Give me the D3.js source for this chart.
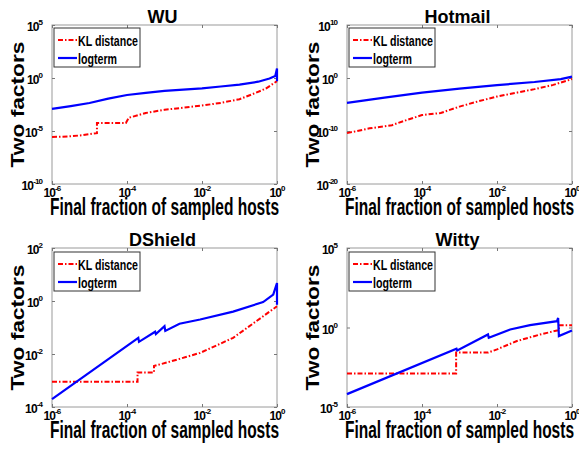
<!DOCTYPE html>
<html><head><meta charset="utf-8">
<script src="https://cdn.jsdelivr.net/npm/d3@7"></script>
<style>
body{margin:0;background:#fff}
svg{display:block}
text{font-family:"Liberation Sans",Arial,sans-serif;font-weight:bold;fill:#000}
</style>
</head><body>
<svg id="c" width="579" height="453"></svg>
<script>
// ---------- data ----------
const seriesNames = ["KL distance", "logterm"];
const xTicks = [1e-6, 1e-4, 1e-2, 1];
const xTickExps = ["-6", "-4", "-2", "0"];

// WU
const wuKLx = [1e-6, 3.16e-6, 6.31e-6, 1.58e-5, 1.58e-5, 9.33e-5, 1.12e-4, 3.16e-4, 1e-3, 3.16e-3, 1e-2, 3.16e-2, 0.1, 0.251, 0.501, 1];
const wuKLy = [2.69e-6, 3.16e-6, 3.98e-6, 6.31e-6, 5.75e-5, 5.75e-5, 1.78e-4, 5.01e-4, 1e-3, 1.58e-3, 2.51e-3, 4.47e-3, 1e-2, 3.55e-2, 0.1, 0.501];
const wuLTx = [1e-6, 3.16e-6, 1e-5, 3.16e-5, 1e-4, 3.16e-4, 1e-3, 3.16e-3, 1e-2, 3.16e-2, 0.1, 0.316, 0.631, 0.9, 1, 1];
const wuLTy = [1.2e-3, 2.24e-3, 4.37e-3, 1.12e-2, 2.51e-2, 3.98e-2, 6.03e-2, 7.94e-2, 0.107, 0.158, 0.24, 0.447, 0.891, 1.58, 7.94, 0.5];
const wuYTicks = [1e-10, 1e-5, 1, 1e5];
const wuYTickExps = ["-10", "-5", "0", "5"];

// Hotmail
const hmKLx = [1e-6, 3.98e-6, 1.58e-5, 3.98e-5, 1e-4, 3.16e-4, 1e-3, 3.16e-3, 1e-2, 3.16e-2, 0.1, 0.316, 1];
const hmKLy = [3.98e-11, 3.16e-10, 1.26e-9, 1.26e-8, 1e-7, 2.51e-7, 3.98e-6, 3.98e-5, 3.16e-4, 1.58e-3, 7.94e-3, 5.01e-2, 0.631];
const hmLTx = [1e-6, 1e-5, 1e-4, 1e-3, 1e-2, 0.1, 0.501, 1];
const hmLTy = [2e-5, 2e-4, 1.78e-3, 1e-2, 4.47e-2, 0.178, 0.631, 1.78];
const hmYTicks = [1e-20, 1e-10, 1, 1e10];
const hmYTickExps = ["-20", "-10", "0", "10"];

// DShield
const dsKLx = [1e-6, 1.91e-4, 1.91e-4, 5.25e-4, 5.25e-4, 1.17e-3, 8.91e-3, 6.76e-2, 0.282, 1];
const dsKLy = [8.91e-4, 8.91e-4, 2e-3, 2e-3, 3.55e-3, 4.79e-3, 1.1e-2, 4.07e-2, 0.174, 0.631];
const dsLTx = [1e-6, 2e-4, 2.09e-4, 5.62e-4, 5.89e-4, 1e-3, 1.05e-3, 2.51e-3, 8.91e-3, 6.76e-2, 0.427, 0.794, 1, 1];
const dsLTy = [2e-4, 4.07e-2, 2.88e-2, 6.92e-2, 5.62e-2, 0.112, 7.41e-2, 0.138, 0.2, 0.398, 0.912, 1.74, 4.79, 0.724];
const dsYTicks = [1e-4, 1e-2, 1, 1e2];
const dsYTickExps = ["-4", "-2", "0", "2"];

// Witty
const wtKLx = [1e-6, 8.13e-4, 8.13e-4, 5.75e-3, 1e-2, 3.39e-2, 0.141, 0.398, 0.447, 0.447, 1];
const wtKLy = [1.26e-3, 1.26e-3, 2.63e-2, 2.63e-2, 4.22e-2, 0.141, 0.363, 0.646, 0.646, 1.38, 1.38];
const wtLTx = [1e-6, 8.32e-4, 8.71e-4, 5.75e-3, 6.03e-3, 2.24e-2, 7.59e-2, 0.398, 0.427, 0.447, 1];
const wtLTy = [6.46e-5, 4.68e-2, 3.55e-2, 0.363, 0.224, 0.75, 1.41, 2.51, 3.98, 0.288, 0.646];
const wtYTicks = [1e-5, 1, 1e5];
const wtYTickExps = ["-5", "0", "5"];

// ---------- layout ----------
const panels = [
  {title: "WU", left: 52, top: 25, yDomain: [1e-10, 1e5], yTicks: wuYTicks, yExps: wuYTickExps,
   kl: [wuKLx, wuKLy], lt: [wuLTx, wuLTy], legTop: 3},
  {title: "Hotmail", left: 347, top: 25, yDomain: [1e-20, 1e10], yTicks: hmYTicks, yExps: hmYTickExps,
   kl: [hmKLx, hmKLy], lt: [hmLTx, hmLTy], legTop: 3},
  {title: "DShield", left: 52, top: 248, yDomain: [1e-4, 1e2], yTicks: dsYTicks, yExps: dsYTickExps,
   kl: [dsKLx, dsKLy], lt: [dsLTx, dsLTy], legTop: 4},
  {title: "Witty", left: 347, top: 248, yDomain: [1e-5, 1e5], yTicks: wtYTicks, yExps: wtYTickExps,
   kl: [wtKLx, wtKLy], lt: [wtLTx, wtLTy], legTop: 4}
];
const W = 225, H = 159;
const svg = d3.select("#c");

function expLabel(t, exp) {
  t.append("tspan").text("10");
  t.append("tspan").attr("dy", -6).attr("font-size", 8).text(exp);
}

panels.forEach(p => {
  const g = svg.append("g").attr("transform", `translate(${p.left},${p.top})`);
  const x = d3.scaleLog().domain([1e-6, 1]).range([0, W]);
  const y = d3.scaleLog().domain(p.yDomain).range([H, 0]);

  g.append("rect").attr("width", W).attr("height", H)
    .attr("fill", "#fff").attr("stroke", "#9a9a9a").attr("stroke-width", 1);

  const axes = [
    [d3.axisBottom(x).tickValues(xTicks), `translate(0,${H})`],
    [d3.axisTop(x).tickValues(xTicks), `translate(0,0)`],
    [d3.axisLeft(y).tickValues(p.yTicks), `translate(0,0)`],
    [d3.axisRight(y).tickValues(p.yTicks), `translate(${W},0)`]
  ];
  axes.forEach(([ax, tr]) => {
    const a = g.append("g").attr("transform", tr)
      .call(ax.tickSize(-3).tickFormat(""));
    a.select(".domain").remove();
    a.selectAll("line").attr("stroke", "#777");
  });

  // x tick labels
  xTicks.forEach((v, i) => {
    const t = g.append("text").attr("x", x(v)).attr("y", H + 13)
      .attr("text-anchor", "middle").attr("font-size", 12).attr("letter-spacing", -0.9);
    expLabel(t, xTickExps[i]);
  });
  // y tick labels
  p.yTicks.forEach((v, i) => {
    const t = g.append("text").attr("x", -10).attr("y", y(v) + 6)
      .attr("text-anchor", "end").attr("font-size", 12).attr("letter-spacing", -0.9);
    expLabel(t, p.yExps[i]);
  });

  // lines
  const line = d3.line().x(d => x(d[0])).y(d => y(d[1]));
  const klData = p.kl[0].map((v, i) => [v, p.kl[1][i]]);
  const ltData = p.lt[0].map((v, i) => [v, p.lt[1][i]]);
  g.append("path").attr("d", line(klData)).attr("fill", "none")
    .attr("stroke", "#ff0000").attr("stroke-width", 2).attr("stroke-dasharray", "5,2,1.5,2");
  g.append("path").attr("d", line(ltData)).attr("fill", "none")
    .attr("stroke", "#0000ff").attr("stroke-width", 2.2);

  // title
  g.append("text").attr("x", W / 2 - 2).attr("y", -2).attr("text-anchor", "middle")
    .attr("font-size", 18).text(p.title);

  // axis labels
  g.append("text").attr("x", W / 2).attr("y", H + 31).attr("text-anchor", "middle")
    .attr("font-size", 23).attr("textLength", 229).attr("lengthAdjust", "spacingAndGlyphs")
    .text("Final fraction of sampled hosts");
  g.append("text").attr("transform", `translate(-28,${H / 2}) scale(0.85,1) rotate(-90)`)
    .attr("text-anchor", "middle").attr("font-size", 22)
    .attr("textLength", 126).attr("lengthAdjust", "spacingAndGlyphs")
    .text("Two factors");

  // legend
  const lg = g.append("g").attr("transform", `translate(2,${p.legTop})`);
  lg.append("rect").attr("width", 86).attr("height", 39)
    .attr("fill", "#fff").attr("stroke", "#333").attr("stroke-width", 1);
  const colors = ["#ff0000", "#0000ff"];
  const dashes = ["5,2,1.5,2", null];
  const lens = [60, 39];
  seriesNames.forEach((n, i) => {
    const yy = 12 + i * 18;
    lg.append("line").attr("x1", 4).attr("x2", 23).attr("y1", yy).attr("y2", yy)
      .attr("stroke", colors[i]).attr("stroke-width", 2.2)
      .attr("stroke-dasharray", dashes[i]);
    lg.append("text").attr("x", 24).attr("y", yy + 5.5).attr("font-size", 15)
      .attr("textLength", lens[i]).attr("lengthAdjust", "spacingAndGlyphs").text(n);
  });
});
</script>
</body></html>
